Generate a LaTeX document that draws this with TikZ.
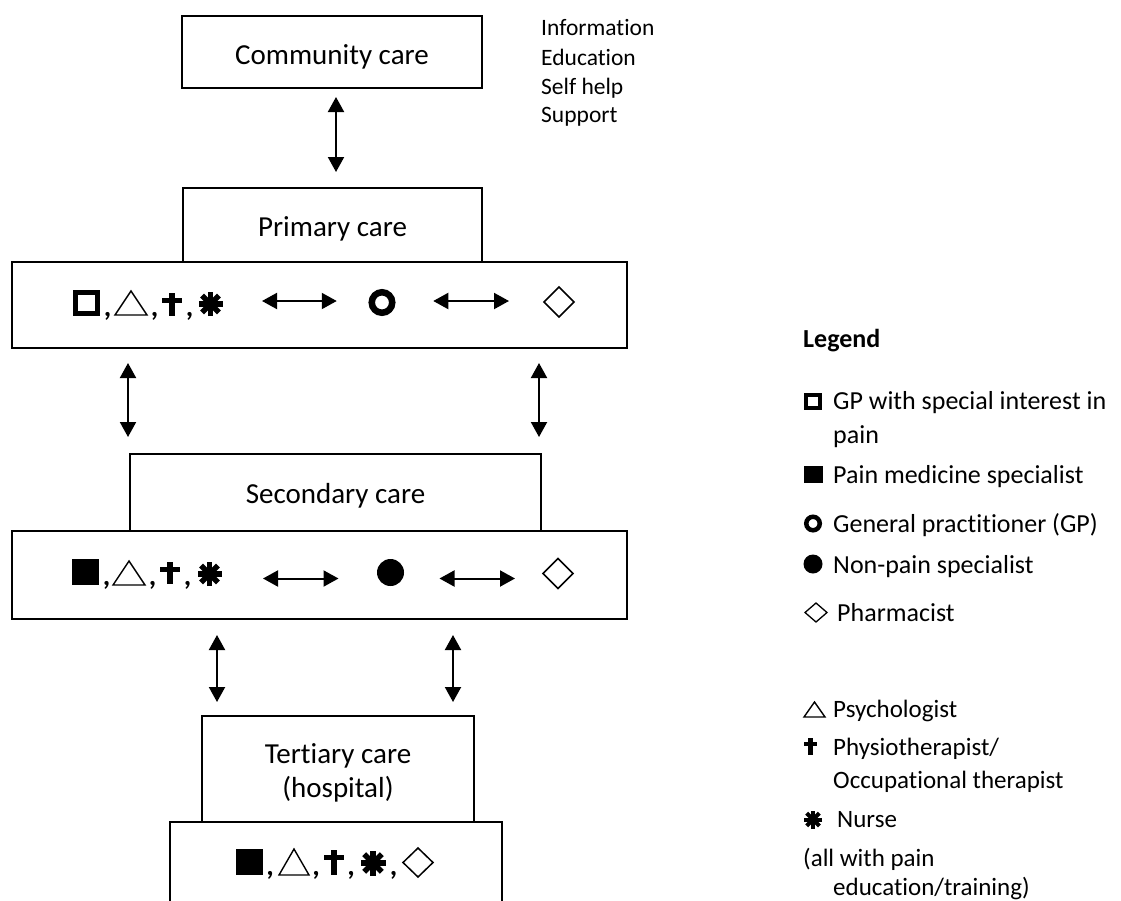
\documentclass[tikz,border=0pt]{standalone}
\usepackage{fontspec}
\setmainfont[Ligatures={NoCommon,NoRequired,NoContextual},Contextuals=NoAlternate]{Carlito}
\usetikzlibrary{shapes.geometric,arrows.meta}
\newcommand\TriSym[4]{% center x, baseline y, width, height
  \draw[line width=1.4pt,line join=miter] (#1-#3/2,#2) -- (#1+#3/2,#2) -- (#1,#2-#4) -- cycle;}
\newcommand\CrossSym[6]{% cx, top, bottom, width, stem, arm top
  \fill (#1-#5/2,#2) rectangle (#1+#5/2,#3);
  \fill (#1-#4/2,#6) rectangle (#1+#4/2,#6+#5*0.8);}
\newcommand\AstSym[4]{% cx, cy, half length, line width
  \begin{scope}[shift={(#1,#2)}]
    \foreach \a in {0,45,90,135} \draw[line width=#4] (\a:#3) -- (\a+180:#3);
    \fill (0,0) circle (#3*0.35);
  \end{scope}}
\begin{document}
\begin{tikzpicture}[x=1pt,y=-1pt,
  box/.style={draw,line width=1.8pt,inner sep=0pt,outer sep=0pt},
  boxtxt/.style={font=\fontsize{29}{34}\selectfont,anchor=base,inner sep=0pt},
  lg/.style={font=\fontsize{26}{30}\selectfont,anchor=base west,inner sep=0pt},
  lgs/.style={font=\fontsize{25}{30}\selectfont,anchor=base west,inner sep=0pt},
  info/.style={font=\fontsize{23.5}{28}\selectfont,anchor=base west,inner sep=0pt},
  comma/.style={font=\fontsize{29}{34}\selectfont\bfseries,anchor=base,inner sep=0pt},
  sym/.style={inner sep=0pt,outer sep=0pt},
  dar/.style={{Triangle[length=15pt,width=16pt]}-{Triangle[length=15pt,width=16pt]},line width=2pt},
]
\useasboundingbox (0,0) rectangle (1121,900);

% ---------- boxes ----------
\node[box,minimum width=300,minimum height=72] (comm) at (332,52) {};
\node[box,minimum width=299,minimum height=74] (primT) at (332.5,225) {};
\node[box,minimum width=615,minimum height=86] (primW) at (319.5,305) {};
\node[box,minimum width=411,minimum height=77] (secT) at (335.5,492.5) {};
\node[box,minimum width=615,minimum height=88] (secW) at (319.5,575) {};
\node[box,minimum width=272,minimum height=106] (terT) at (338,769) {};
\draw[line width=1.8pt] (170,910) -- (170,822) -- (502,822) -- (502,910);

% ---------- box labels ----------
\node[boxtxt] (tComm) at (332,64) {Community care};
\node[boxtxt] (tPrim) at (332.5,236) {Primary care};
\node[boxtxt] (tSec) at (335.5,503) {Secondary care};
\node[boxtxt] (tTer1) at (338,763) {Tertiary care};
\node[boxtxt] (tTer2) at (338,797) {(hospital)};

% ---------- info text ----------
\node[info] (inf1) at (541,35.7) {Information};
\node[info] (inf2) at (541,65) {Education};
\node[info] (inf3) at (541,94) {Self help};
\node[info] (inf4) at (541,122) {Support};

% ---------- primary row ----------
\draw[line width=5pt] (75.5,292.5) rectangle (97.5,313.5);
\node[comma] (pc1) at (107.5,316) {,};
\TriSym{131}{315}{32}{24}
\node[comma] (pc2) at (154.5,316) {,};
\CrossSym{172}{293}{316}{20}{6.5}{297.5}
\node[comma] (pc3) at (189.5,316) {,};
\node[sym,minimum width=25,minimum height=22] (pAst) at (210.5,304) {};
\AstSym{210.5}{304}{12}{5.5pt}
\node[sym,circle,draw,line width=6.5pt,minimum size=20.5] (pRing) at (382,302.5) {};
\node[sym,diamond,draw,line width=1.5pt,minimum width=30,minimum height=30] (pDia) at (559,302) {};

% ---------- secondary row ----------
\fill (72,559) rectangle (99,585);
\node[comma] (sc1) at (106.5,585) {,};
\TriSym{129}{585}{32}{24}
\node[comma] (sc2) at (152.5,585) {,};
\CrossSym{170}{562}{584}{20}{6.5}{566.5}
\node[comma] (sc3) at (187.5,585) {,};
\node[sym,minimum width=25,minimum height=22] (sAst) at (209.5,574) {};
\AstSym{209.5}{574}{12}{5.5pt}
\node[sym,circle,fill,minimum size=27] (sDot) at (390.5,572.5) {};
\node[sym,diamond,draw,line width=1.5pt,minimum width=30,minimum height=30] (sDia) at (558,573.5) {};

% ---------- tertiary row ----------
\fill (236,849) rectangle (263,875);
\node[comma] (tc1) at (270,875) {,};
\TriSym{294}{875}{30}{26}
\node[comma] (tc2) at (316,875) {,};
\CrossSym{334}{850}{875}{20}{6.5}{854.5}
\node[comma] (tc3) at (351,875) {,};
\AstSym{373}{863}{12.5}{5.5pt}
\node[comma] (tc4) at (393.5,875) {,};
\node[sym,diamond,draw,line width=1.5pt,minimum width=30,minimum height=29] (tDia) at (418,862.5) {};

% ---------- arrows ----------
\coordinate (xc) at (336,0);
\coordinate (xl1) at (128,0);
\coordinate (xr1) at (539,0);
\coordinate (xl2) at (217,0);
\coordinate (xr2) at (453,0);
\coordinate (yp) at (0,301);
\coordinate (ys) at (0,578.5);
\draw[dar,shorten <=9pt,shorten >=16pt] (comm.south -| xc) -- (primT.north -| xc);
\draw[dar,shorten <=15pt,shorten >=17pt] (primW.south -| xl1) -- (secT.north -| xl1);
\draw[dar,shorten <=15pt,shorten >=17pt] (primW.south -| xr1) -- (secT.north -| xr1);
\draw[dar,shorten <=16pt,shorten >=14pt] (secW.south -| xl2) -- (terT.north -| xl2);
\draw[dar,shorten <=16pt,shorten >=14pt] (secW.south -| xr2) -- (terT.north -| xr2);
\draw[dar,shorten <=39pt,shorten >=35pt] (pAst.east |- yp) -- (pRing.west |- yp);
\draw[dar,shorten <=41pt,shorten >=35pt] (pRing.east |- yp) -- (pDia.west |- yp);
\draw[dar,shorten <=41pt,shorten >=38.5pt] (sAst.east |- ys) -- (sDot.west |- ys);
\draw[dar,shorten <=35.5pt,shorten >=28pt] (sDot.east |- ys) -- (sDia.west |- ys);

% ---------- legend ----------
\node[lg,font=\fontsize{26}{30}\selectfont\bfseries] (lgT) at (803,347) {Legend};
\draw[line width=4pt] (806,395) rectangle (820,408);
\node[lg] (l1a) at (833,409) {GP with special interest in};
\node[lg] (l1b) at (833,443) {pain};
\fill (804,466) rectangle (823,483);
\node[lg] (l2) at (833,483) {Pain medicine specialist};
\node[sym,circle,draw,line width=4.5pt,minimum size=13.5] (lRing) at (813,523.5) {};
\node[lg] (l3) at (833,532) {General practitioner (GP)};
\node[sym,circle,fill,minimum size=19] (lDot) at (813,564) {};
\node[lg] (l4) at (833,573) {Non-pain specialist};
\node[sym,diamond,draw,line width=1.3pt,minimum width=22,minimum height=19] (lDia) at (816,612.5) {};
\node[lg] (l5) at (837,621) {Pharmacist};
\TriSym{814.5}{717}{21}{15}
\node[lgs] (l6) at (833,717) {Psychologist};
\CrossSym{810.5}{738}{755}{13}{5}{741.5}
\node[lgs] (l7a) at (833,755) {Physiotherapist/};
\node[lgs] (l7b) at (833,788) {Occupational therapist};
\AstSym{813}{819.5}{9}{4pt}
\node[lgs] (l8) at (837,827) {Nurse};
\node[lgs] (l9a) at (803,866) {(all with pain};
\node[lgs] (l9b) at (833,895) {education/training)};
\end{tikzpicture}
\end{document}
